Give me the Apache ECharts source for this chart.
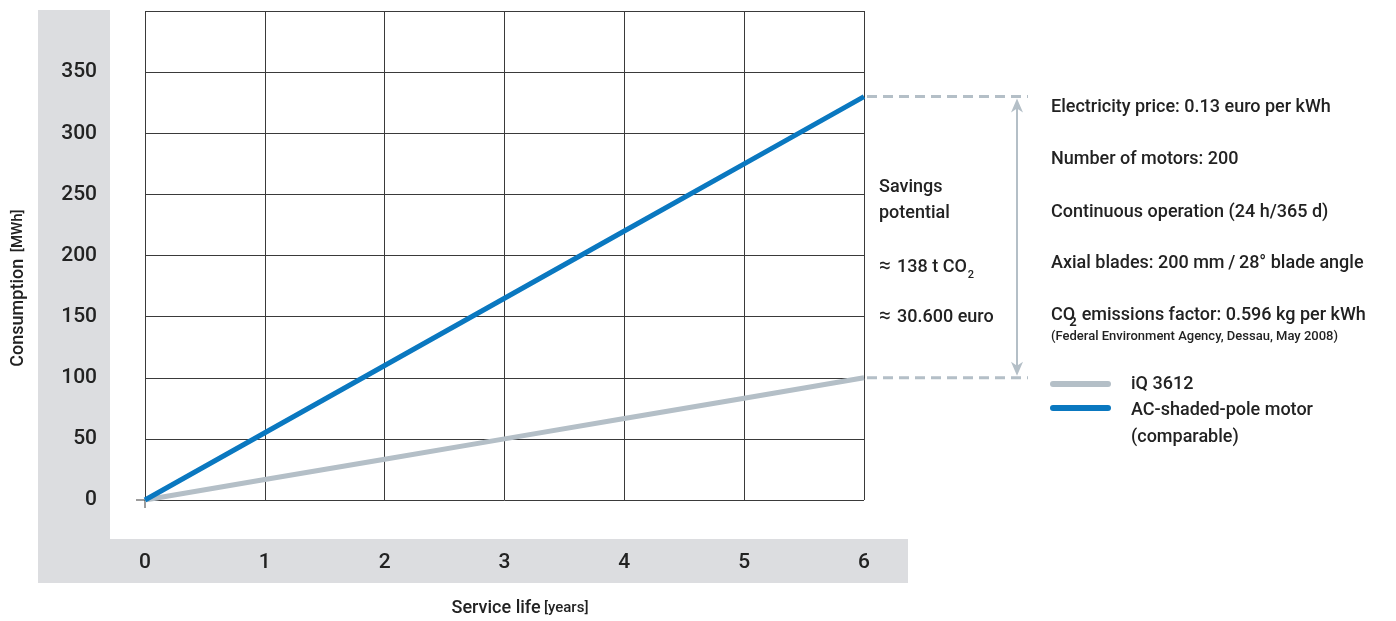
<!DOCTYPE html>
<html><head><meta charset="utf-8">
<script src="https://cdn.jsdelivr.net/npm/echarts@6/dist/echarts.min.js"></script>
<style>html,body{margin:0;padding:0;background:#fff}#c{width:1396px;height:621px}</style>
</head><body><div id="c"></div>
<script>
// ---- data ----
const years = [0, 1, 2, 3, 4, 5, 6];
const acShadedPole = [0, 55, 110, 165, 220, 275, 330];
const iq3612 = [0, 16.7, 33.3, 50, 66.7, 83.3, 100];
const seriesNames = ['iQ 3612', 'AC-shaded-pole motor', '(comparable)'];
const xTitle = 'Service life', xUnit = '[years]';
const yTitle = 'Consumption', yUnit = '[MWh]';
const savingsText = ['Savings', 'potential'];
const savingsCO2 = '138 t CO', savingsEuro = '30.600 euro';
const notes = [
  'Electricity price: 0.13 euro per kWh',
  'Number of motors: 200',
  'Continuous operation (24 h/365 d)',
  'Axial blades: 200 mm\u2009/\u200928° blade angle'
];
const co2Note = ' emissions factor: 0.596 kg per kWh';
const co2Source = '(Federal Environment Agency, Dessau, May 2008)';

const FONT = 'Roboto, "Liberation Sans", sans-serif';
const W = 500;
const BLUE = '#0a78c0', GRAY = '#b4bfc7', GRID = '#3a3a3a', TXT = '#222';

const ctx = document.createElement('canvas').getContext('2d');
const measure = (t, size, weight) => { ctx.font = (weight || W) + ' ' + size + 'px ' + FONT; return ctx.measureText(t).width; };

const chart = echarts.init(document.getElementById('c'));
const option = {
  animation: false,
  backgroundColor: '#fff',
  grid: { left: 145, top: 11, width: 719, height: 489, containLabel: false },
  xAxis: {
    type: 'value', min: 0, max: 6, interval: 1,
    axisLine: { show: false }, axisTick: { show: false },
    splitLine: { show: true, lineStyle: { color: GRID, width: 1 } },
    axisLabel: { margin: 52, fontSize: 21, fontWeight: W, color: TXT, fontFamily: FONT }
  },
  yAxis: {
    type: 'value', min: 0, max: 400, interval: 50,
    axisLine: { show: false }, axisTick: { show: false },
    splitLine: { show: true, lineStyle: { color: GRID, width: 1 } },
    axisLabel: { margin: 48, fontSize: 21, fontWeight: W, color: TXT, fontFamily: FONT, padding: [6, 0, 0, 0],
      formatter: v => (v >= 400 ? '' : String(v)) }
  },
  series: [
    { name: seriesNames[0], type: 'line', data: years.map((y, i) => [y, iq3612[i]]),
      symbol: 'none', lineStyle: { color: GRAY, width: 5 }, z: 3 },
    { name: seriesNames[1], type: 'line', data: years.map((y, i) => [y, acShadedPole[i]]),
      symbol: 'none', lineStyle: { color: BLUE, width: 5 }, z: 4 }
  ]
};
chart.setOption(option);

const px = (x, y) => chart.convertToPixel({ gridIndex: 0 }, [x, y]);
const p0 = px(0, 0);
const pTopBlue = px(years[6], acShadedPole[6]);
const pTopGray = px(years[6], iq3612[6]);

const txt = (x, y, text, size, weight) => ({
  type: 'text', x, y,
  style: { text, fill: TXT, font: (weight || W) + ' ' + size + 'px ' + FONT, verticalAlign: 'middle' }
});

const arrowX = 1017;
const coW = measure(savingsCO2, 18);
const co2W = measure('CO', 18);
const g = [
  // grey L-shaped backgrounds
  { type: 'rect', z: -10, shape: { x: 38, y: 10, width: 72, height: 573 }, style: { fill: '#dcdde0' } },
  { type: 'rect', z: -10, shape: { x: 38, y: 539, width: 870, height: 44 }, style: { fill: '#dcdde0' } },
  // origin ticks
  { type: 'line', shape: { x1: p0[0] - 9, y1: p0[1], x2: p0[0], y2: p0[1] }, style: { stroke: GRID, lineWidth: 1 } },
  { type: 'line', shape: { x1: p0[0], y1: p0[1], x2: p0[0], y2: p0[1] + 8 }, style: { stroke: GRID, lineWidth: 1 } },
  // dashed reference lines
  { type: 'line', shape: { x1: pTopBlue[0] + 3, y1: pTopBlue[1], x2: 1028, y2: pTopBlue[1] }, style: { stroke: GRAY, lineWidth: 3, lineDash: [10, 6] } },
  { type: 'line', shape: { x1: pTopGray[0] + 3, y1: pTopGray[1], x2: 1028, y2: pTopGray[1] }, style: { stroke: GRAY, lineWidth: 3, lineDash: [10, 6] } },
  // double arrow
  { type: 'line', shape: { x1: arrowX, y1: pTopBlue[1] + 8, x2: arrowX, y2: pTopGray[1] - 8 }, style: { stroke: GRAY, lineWidth: 2 } },
  { type: 'polygon', shape: { points: [[arrowX, pTopBlue[1] + 2], [arrowX - 6, pTopBlue[1] + 16], [arrowX, pTopBlue[1] + 12], [arrowX + 6, pTopBlue[1] + 16]] }, style: { fill: GRAY } },
  { type: 'polygon', shape: { points: [[arrowX, pTopGray[1] - 2], [arrowX - 6, pTopGray[1] - 16], [arrowX, pTopGray[1] - 12], [arrowX + 6, pTopGray[1] - 16]] }, style: { fill: GRAY } },
  // savings text
  txt(879, 187, savingsText[0], 18),
  txt(879, 213, savingsText[1], 18),
  txt(879, 267, '\u2248', 21, 400),
  txt(897, 267, savingsCO2, 18),
  txt(897 + coW + 1, 275, '2', 11),
  txt(879, 317, '\u2248', 21, 400),
  txt(897, 317, savingsEuro, 18),
  // notes
  txt(1051, 107, notes[0], 18),
  txt(1051, 159, notes[1], 18),
  txt(1051, 212, notes[2], 18),
  txt(1051, 263, notes[3], 18),
  txt(1051, 315, 'CO', 18),
  txt(1051 + co2W - 6, 323, '2', 13, 700),
  txt(1051 + co2W + 2, 315, co2Note, 18),
  txt(1051, 337, co2Source, 13),
  // legend
  { type: 'line', shape: { x1: 1053, y1: 384, x2: 1108, y2: 384 }, style: { stroke: GRAY, lineWidth: 6, lineCap: 'round' } },
  { type: 'line', shape: { x1: 1053, y1: 408, x2: 1108, y2: 408 }, style: { stroke: BLUE, lineWidth: 6, lineCap: 'round' } },
  txt(1131, 384, seriesNames[0], 18),
  txt(1131, 410, seriesNames[1], 18),
  txt(1131, 437, seriesNames[2], 18),
  // axis titles
  { type: 'text', x: 520, y: 608, style: { text: '{a|' + xTitle + '} {b|' + xUnit + '}', align: 'center', verticalAlign: 'middle',
      rich: { a: { fontSize: 18, fontWeight: W, fontFamily: FONT, fill: TXT }, b: { fontSize: 15, fontWeight: W, fontFamily: FONT, fill: TXT } } } },
  { type: 'text', x: 18, y: 288, rotation: Math.PI / 2, style: { text: '{a|' + yTitle + '}  {b|' + yUnit + '}', align: 'center', verticalAlign: 'middle',
      rich: { a: { fontSize: 18, fontWeight: W, fontFamily: FONT, fill: TXT }, b: { fontSize: 15, fontWeight: W, fontFamily: FONT, fill: TXT } } } }
];
chart.setOption({ graphic: { elements: g } });
</script></body></html>
